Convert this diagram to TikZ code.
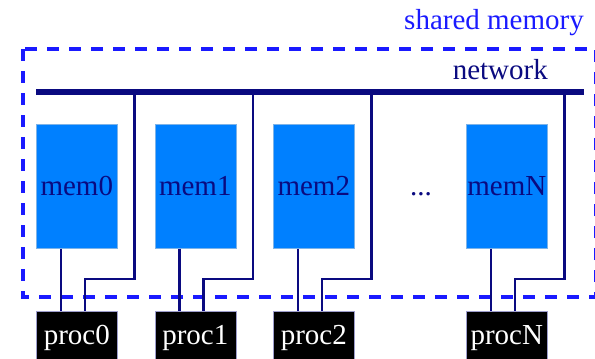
\documentclass[tikz,border=0pt]{standalone}
\usepackage{fontspec}
\setmainfont{Liberation Serif}
\definecolor{navy}{HTML}{0A0A80}
\definecolor{membl}{HTML}{0080FF}
\definecolor{dashbl}{HTML}{1A1AFF}
\begin{document}
\begin{tikzpicture}[x=1pt,y=-1pt,
  membox/.style={draw=membl!70!gray!60, line width=0.6pt, fill=membl, minimum width=81pt, minimum height=124pt, inner sep=0pt, anchor=north west, text=navy, font=\fontsize{29}{31}\selectfont},
  procbox/.style={draw=navy!40, line width=0.6pt, fill=black, minimum width=81pt, minimum height=54pt, inner sep=0pt, anchor=north west, text=white, font=\fontsize{29}{31}\selectfont},
  link/.style={draw=navy, line width=2.7pt, line join=miter},
  bus/.style={draw=navy, line width=5.5pt},
  smem/.style={draw=dashbl, line width=3.5pt, dash pattern=on 12pt off 10pt},
  lbl/.style={inner sep=0pt, font=\fontsize{29}{31}\selectfont}]
\useasboundingbox (0,0) rectangle (595,359);
% shared memory region
\draw[smem] (23,49) rectangle (596,297);
\node[lbl, text=dashbl, anchor=base east] (smemlbl) at (584,29) {shared memory};
% network
\coordinate (netL) at (36,92);
\coordinate (netR) at (584,92);
\draw[bus] (netL) -- (netR);
\node[lbl, text=navy, anchor=base east] (netlbl) at (548,79) {network};
% memories
\node[membox] (mem0) at (36,124) {mem0};
\node[membox] (mem1) at (154.5,124) {mem1};
\node[membox] (mem2) at (273,124) {mem2};
\node[membox] (memN) at (466,124) {memN};
\node[lbl, text=navy, anchor=base] (dots) at (421,195) {...};
% processors
\node[procbox] (proc0) at (36,311) {proc0};
\node[procbox] (proc1) at (154.5,311) {proc1};
\node[procbox] (proc2) at (273,311) {proc2};
\node[procbox] (procN) at (466,311) {procN};
% links
\foreach \i in {0,1,2,N}{
  \draw[link] ([xshift=25pt]mem\i.south west) -- ([xshift=25pt]proc\i.north west);
  \draw[link] ([xshift=17pt]mem\i.east |- netL) |- ([xshift=49pt,yshift=32pt]proc\i.north west) -- ([xshift=49pt]proc\i.north west);
}
\end{tikzpicture}
\end{document}
